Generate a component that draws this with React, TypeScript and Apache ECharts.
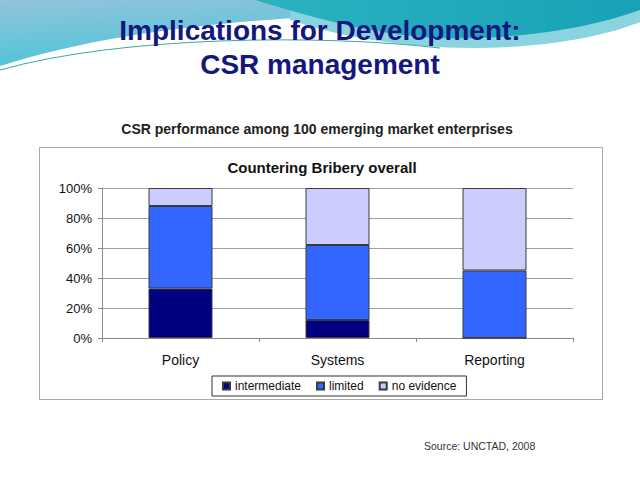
import React, { useEffect, useRef } from "react";
import * as echarts from "echarts";

const categories = ["Policy", "Systems", "Reporting"];
const intermediate = [33, 12, 0];
const limited = [55, 50, 45];
const noEvidence = [12, 38, 55];
const yTicks = [0, 20, 40, 60, 80, 100];

const FONT = "'Liberation Sans', Arial, sans-serif";

echarts.graphic.registerShape(
  "waveA",
  echarts.graphic.extendPath("M0,0 L380,0 L380,14 C260,18 120,28 0,66 Z", {})
);
echarts.graphic.registerShape(
  "waveC",
  echarts.graphic.extendPath("M290,20 C360,44 460,56 560,42 C600,36 625,28 640,22 L640,0 L290,0 Z", {})
);
echarts.graphic.registerShape(
  "waveB",
  echarts.graphic.extendPath("M255,0 L640,0 L640,10 C590,28 520,40 440,38 C380,36 320,20 255,0 Z", {})
);

export default function App() {
  const ref = useRef<HTMLDivElement>(null);
  useEffect(() => {
    const chart = echarts.init(ref.current!, null, { renderer: "svg" });
    const barStyle = { borderColor: "#3a3a3a", borderWidth: 1 };
    chart.setOption({
      animation: false,
      backgroundColor: "#ffffff",
      graphic: [
        {
          type: "waveA",
          x: 0,
          y: 0,
          style: {
            fill: new echarts.graphic.LinearGradient(0, 0, 0.3, 1, [
              { offset: 0, color: "#93c3dd" },
              { offset: 1, color: "#4cc6d6" },
            ]),
          },
        },
        { type: "waveC", x: 0, y: 0, style: { fill: "#8ad4df" } },
        {
          type: "waveB",
          x: 0,
          y: 0,
          style: {
            fill: new echarts.graphic.LinearGradient(0, 0, 1, 0, [
              { offset: 0, color: "#2bb3c0" },
              { offset: 1, color: "#17a2b6" },
            ]),
          },
        },
        {
          type: "bezierCurve",
          shape: { x1: 0, y1: 70, cpx1: 120, cpy1: 36, cpx2: 320, cpy2: 34, x2: 440, y2: 48 },
          style: { stroke: "#3aa9a6", lineWidth: 1, fill: null },
        },
        {
          type: "text",
          x: 320,
          y: 30,
          style: {
            text: "Implications for Development:",
            font: `bold 28px ${FONT}`,
            fill: "#16167f",
            align: "center",
            verticalAlign: "middle",
          },
        },
        {
          type: "text",
          x: 320,
          y: 64,
          style: {
            text: "CSR management",
            font: `bold 28px ${FONT}`,
            fill: "#16167f",
            align: "center",
            verticalAlign: "middle",
          },
        },
        {
          type: "text",
          x: 317,
          y: 129,
          style: {
            text: "CSR performance among 100 emerging market enterprises",
            font: `bold 14px ${FONT}`,
            fill: "#222222",
            align: "center",
            verticalAlign: "middle",
          },
        },
        {
          type: "rect",
          shape: { x: 39.5, y: 147.5, width: 563, height: 252 },
          style: { fill: null, stroke: "#a8a8a8", lineWidth: 1 },
        },
        {
          type: "text",
          x: 322,
          y: 167,
          style: {
            text: "Countering Bribery overall",
            font: `bold 15px ${FONT}`,
            fill: "#111111",
            align: "center",
            verticalAlign: "middle",
          },
        },
        {
          type: "text",
          x: 424,
          y: 446,
          style: {
            text: "Source: UNCTAD, 2008",
            font: `10.5px ${FONT}`,
            fill: "#333333",
            align: "left",
            verticalAlign: "middle",
          },
        },
      ],
      grid: { left: 102, right: 67, top: 188, bottom: 142, containLabel: false },
      legend: {
        left: 212,
        top: 376,
        padding: [4, 10, 4, 10],
        itemGap: 15,
        itemWidth: 7,
        itemHeight: 7,
        icon: "rect",
        borderColor: "#333333",
        borderWidth: 1,
        backgroundColor: "#ffffff",
        textStyle: { fontFamily: FONT, fontSize: 12, color: "#111", padding: [0, 0, 0, 0] },
        data: ["intermediate", "limited", "no evidence"],
      },
      xAxis: {
        type: "category",
        data: categories,
        axisLine: { lineStyle: { color: "#8a8a8a" } },
        axisTick: { show: true, length: 4, lineStyle: { color: "#8a8a8a" } },
        axisLabel: { fontFamily: FONT, fontSize: 14, color: "#111", margin: 15 },
      },
      yAxis: {
        type: "value",
        min: 0,
        max: 100,
        interval: 20,
        axisLine: { show: true, lineStyle: { color: "#8a8a8a" } },
        axisTick: { show: true, length: 4, lineStyle: { color: "#8a8a8a" } },
        splitLine: { lineStyle: { color: "#a0a0a0" } },
        axisLabel: {
          fontFamily: FONT,
          fontSize: 13,
          color: "#111",
          margin: 10,
          formatter: (v: number) => (yTicks.includes(v) ? `${v}%` : ""),
        },
      },
      series: [
        {
          name: "intermediate",
          type: "bar",
          stack: "s",
          barWidth: 64,
          data: intermediate,
          itemStyle: { color: "#000080", ...barStyle },
        },
        {
          name: "limited",
          type: "bar",
          stack: "s",
          barWidth: 64,
          data: limited,
          itemStyle: { color: "#3366ff", ...barStyle },
        },
        {
          name: "no evidence",
          type: "bar",
          stack: "s",
          barWidth: 64,
          data: noEvidence,
          itemStyle: { color: "#ccccff", ...barStyle },
        },
      ],
    });
    return () => chart.dispose();
  }, []);
  return (
    <div
      ref={ref}
      style={{ position: "absolute", left: 0, top: 0, width: 640, height: 480 }}
    />
  );
}
